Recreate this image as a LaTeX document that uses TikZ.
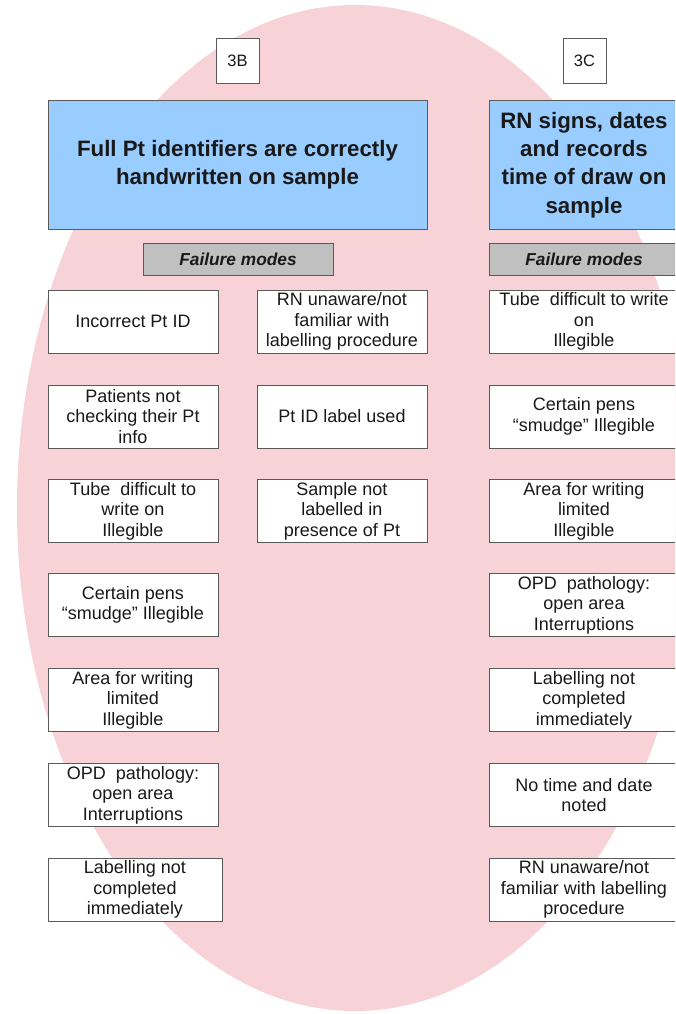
\documentclass[tikz,border=0pt]{standalone}
\usepackage{fontspec}
\setmainfont{Liberation Sans}
\definecolor{pinkfill}{RGB}{247,211,215}
\definecolor{bluefill}{RGB}{153,204,255}
\definecolor{grayfill}{RGB}{192,192,192}
\definecolor{edge}{RGB}{90,90,90}
\definecolor{txt}{RGB}{25,25,25}
\begin{document}
\begin{tikzpicture}[x=1pt,y=-1pt,
  box/.style={draw=edge,line width=1pt,fill=white,align=center,inner sep=0pt,
    text=txt,font=\fontsize{18}{20.5}\selectfont,minimum height=63pt},
  lbox/.style={box,minimum width=170pt},
  rbox/.style={box,minimum width=190pt},
  title/.style={draw=edge,line width=1pt,fill=bluefill,align=center,inner sep=0pt,
    text=txt,font=\fontsize{22.3}{28.3}\selectfont\bfseries,minimum height=128pt},
  fm/.style={draw=edge,line width=1pt,fill=grayfill,inner sep=0pt,text=txt,
    font=\fontsize{17.3}{20}\selectfont\bfseries\itshape,minimum height=32pt,minimum width=190pt},
  tag/.style={draw=edge,line width=0.8pt,fill=white,inner sep=0pt,text=txt,
    font=\fontsize{16.5}{19}\selectfont,minimum width=43pt,minimum height=45pt}]
\useasboundingbox (0,0) rectangle (675,1014);
\clip (0,0) rectangle (675,1014);
\fill[pinkfill] (355,508) ellipse [x radius=338, y radius=503];
% tags
\node[tag] (t3b) at (237.5,60.5) {3B};
\node[tag] (t3c) at (584.5,60.5) {3C};
% titles
\node[title,minimum width=379pt] (h3b) at (237.5,165) {Full Pt identifiers are correctly\\handwritten on sample};
\node[title,minimum width=190pt] (h3c) at (584,165) {RN signs, dates\\and records\\time of draw on\\sample};
\node[fm] (f3b) at (238,259) {Failure modes};
\node[fm] (f3c) at (584,259) {Failure modes};
% left column
\node[lbox] (b1) at (133,321.5) {Incorrect Pt ID};
\node[lbox] (b2) at (133,416.5) {Patients not\\checking their Pt\\info};
\node[lbox] (b3) at (133,511) {Tube\ \ difficult to\\write on\\Illegible};
\node[lbox] (b4) at (133,605) {Certain pens\\“smudge” Illegible};
\node[lbox] (b5) at (133,700) {Area for writing\\limited\\Illegible};
\node[lbox] (b6) at (133,795) {OPD\ \ pathology:\\open area\\Interruptions};
\node[box,minimum width=174pt] (b7) at (135,889.5) {Labelling not\\completed\\immediately};
% middle column
\node[lbox] (m1) at (342,321.5) {RN unaware/not\\familiar with\\labelling procedure};
\node[lbox] (m2) at (342,416.5) {Pt ID label used};
\node[lbox] (m3) at (342,511) {Sample not\\labelled in\\presence of Pt};
% right column
\node[rbox] (r1) at (584,321.5) {Tube\ \ difficult to write\\on\\Illegible};
\node[rbox] (r2) at (584,416.5) {Certain pens\\“smudge” Illegible};
\node[rbox] (r3) at (584,511) {Area for writing\\limited\\Illegible};
\node[rbox] (r4) at (584,605) {OPD\ \ pathology:\\open area\\Interruptions};
\node[rbox] (r5) at (584,700) {Labelling not\\completed\\immediately};
\node[rbox] (r6) at (584,795) {No time and date\\noted};
\node[rbox] (r7) at (584,889.5) {RN unaware/not\\familiar with labelling\\procedure};
\end{tikzpicture}
\end{document}
